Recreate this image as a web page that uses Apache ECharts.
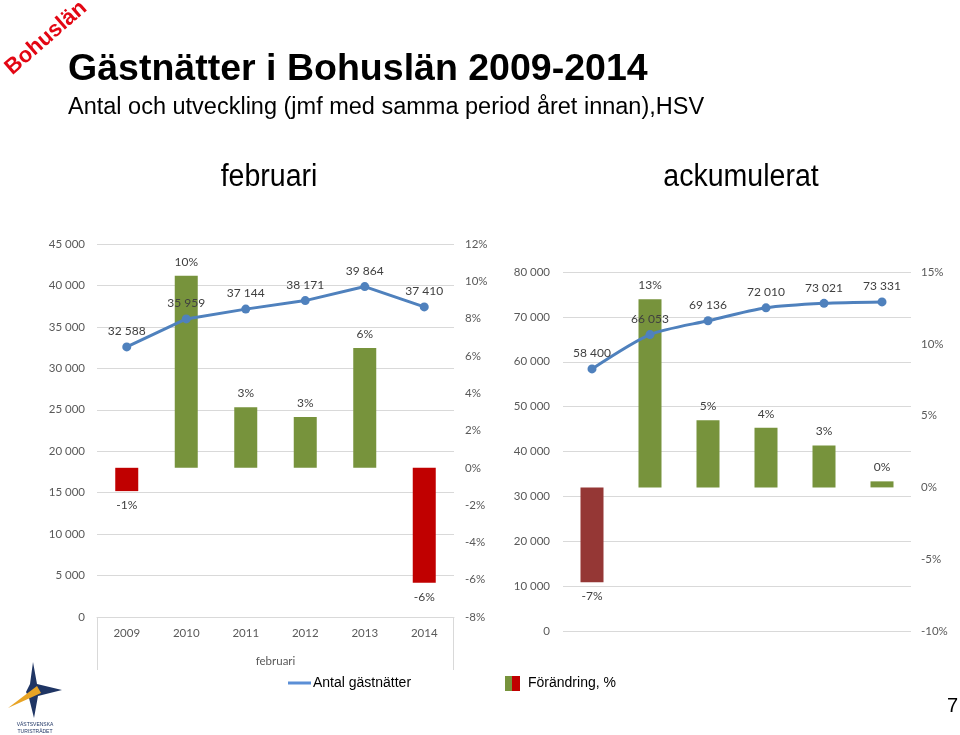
<!DOCTYPE html>
<html>
<head>
<meta charset="utf-8">
<script src="https://cdn.jsdelivr.net/npm/echarts@6/dist/echarts.min.js"></script>
<style>
html,body{margin:0;padding:0;background:#fff;}
#chart{width:960px;height:735px;}
</style>
</head>
<body>
<div id="chart"></div>
<script>
// ---- data ----
const years = ['2009', '2010', '2011', '2012', '2013', '2014'];
const febNights = [32588, 35959, 37144, 38171, 39864, 37410];
const febChange = [-1.25, 10.3, 3.25, 2.72, 6.43, -6.17];
const accNights = [58400, 66053, 69136, 72010, 73021, 73331];
const accChange = [-6.6, 13.1, 4.67, 4.16, 2.92, 0.42];
const febLeftTicks = { min: 0, max: 45000, interval: 5000 };
const febRightTicks = { min: -8, max: 12, interval: 2 };
const accLeftTicks = { min: 0, max: 80000, interval: 10000 };
const accRightTicks = { min: -10, max: 15, interval: 5 };

// ---- helpers ----
const GREEN = '#77933C', RED1 = '#C00000', RED2 = '#953735', BLUE = '#4F81BD';
const AXIS_FONT = 'Lato, "Open Sans", sans-serif';
const SANS = '"Liberation Sans", Arial, sans-serif';
const fmtNum = v => String(Math.round(v)).replace(/\B(?=(\d{3})+(?!\d))/g, ' ');
const fmtPct = v => Math.round(v) + '%';

function barData(vals, neg) {
  return vals.map(v => ({
    value: v,
    itemStyle: { color: v < 0 ? neg : GREEN },
    label: { position: v < 0 ? 'bottom' : 'top' }
  }));
}

const G0 = { left: 97, top: 244, width: 357, height: 373 };
const G1 = { left: 563, top: 272, width: 348, height: 359 };

const axisLabelStyle = { color: '#595959', fontSize: 11.5, fontFamily: AXIS_FONT };
const splitLineStyle = { show: true, lineStyle: { color: '#D9D9D9', width: 1 } };
const dataLabel = { show: true, color: '#404040', fontSize: 12, fontFamily: AXIS_FONT };

const chart = echarts.init(document.getElementById('chart'), null, { renderer: 'canvas' });

const option = {
  animation: false,
  backgroundColor: '#fff',
  grid: [
    Object.assign({}, G0, { containLabel: false }),
    Object.assign({}, G1, { containLabel: false })
  ],
  xAxis: [
    {
      type: 'category', gridIndex: 0, data: years,
      axisLine: { show: true, lineStyle: { color: '#D9D9D9' } },
      axisTick: { show: false },
      axisLabel: Object.assign({ margin: 10 }, axisLabelStyle),
      name: 'februari', nameLocation: 'middle', nameGap: 38,
      nameTextStyle: { color: '#595959', fontSize: 11.5, fontFamily: AXIS_FONT }
    },
    {
      type: 'category', gridIndex: 1, data: years,
      axisLine: { show: false }, axisTick: { show: false },
      axisLabel: { show: false }
    }
  ],
  yAxis: [
    Object.assign({
      type: 'value', gridIndex: 0, position: 'left',
      axisLine: { show: false }, axisTick: { show: false },
      splitLine: splitLineStyle,
      axisLabel: Object.assign({ margin: 12, formatter: fmtNum }, axisLabelStyle)
    }, febLeftTicks),
    Object.assign({
      type: 'value', gridIndex: 0, position: 'right',
      axisLine: { show: false }, axisTick: { show: false },
      splitLine: { show: false },
      axisLabel: Object.assign({ margin: 11, formatter: '{value}%' }, axisLabelStyle)
    }, febRightTicks),
    Object.assign({
      type: 'value', gridIndex: 1, position: 'left',
      axisLine: { show: false }, axisTick: { show: false },
      splitLine: splitLineStyle,
      axisLabel: Object.assign({ margin: 13, formatter: fmtNum }, axisLabelStyle)
    }, accLeftTicks),
    Object.assign({
      type: 'value', gridIndex: 1, position: 'right',
      axisLine: { show: false }, axisTick: { show: false },
      splitLine: { show: false },
      axisLabel: Object.assign({ margin: 10, formatter: '{value}%' }, axisLabelStyle)
    }, accRightTicks)
  ],
  series: [
    {
      type: 'bar', xAxisIndex: 0, yAxisIndex: 1, barWidth: 23,
      data: barData(febChange, RED1),
      label: Object.assign({ distance: 8, formatter: p => fmtPct(p.value) }, dataLabel),
      z: 2
    },
    {
      type: 'line', xAxisIndex: 0, yAxisIndex: 0, data: febNights,
      color: BLUE, lineStyle: { width: 3, color: BLUE },
      symbol: 'circle', symbolSize: 9, itemStyle: { color: BLUE },
      label: Object.assign({ position: 'top', distance: 5, formatter: p => fmtNum(p.value) }, dataLabel),
      z: 3
    },
    {
      type: 'bar', xAxisIndex: 1, yAxisIndex: 3, barWidth: 23,
      data: barData(accChange, RED2),
      label: Object.assign({ distance: 8, formatter: p => fmtPct(p.value) }, dataLabel),
      z: 2
    },
    {
      type: 'line', xAxisIndex: 1, yAxisIndex: 2, data: accNights, smooth: 0.25,
      color: BLUE, lineStyle: { width: 3, color: BLUE },
      symbol: 'circle', symbolSize: 9, itemStyle: { color: BLUE },
      label: Object.assign({ position: 'top', distance: 5, formatter: p => fmtNum(p.value) }, dataLabel),
      z: 3
    }
  ],
  graphic: [
    // corner mark
    { type: 'text', x: 46, y: 38, rotation: Math.PI * 41 / 180,
      style: { text: 'Bohuslän', font: 'bold 22px ' + SANS, fill: '#E30613', align: 'center', verticalAlign: 'middle' } },
    // titles
    { type: 'text', x: 68, y: 70, scaleX: 1.014,
      style: { text: 'Gästnätter i Bohuslän 2009-2014', font: 'bold 37px ' + SANS, fill: '#000', verticalAlign: 'middle' } },
    { type: 'text', x: 68, y: 108,
      style: { text: 'Antal och utveckling (jmf med samma period året innan),HSV', font: '23.5px ' + SANS, fill: '#000', verticalAlign: 'middle' } },
    { type: 'text', x: 269, y: 177, scaleX: 0.92,
      style: { text: 'februari', font: '31px ' + SANS, fill: '#000', align: 'center', verticalAlign: 'middle' } },
    { type: 'text', x: 741, y: 177, scaleX: 0.92,
      style: { text: 'ackumulerat', font: '31px ' + SANS, fill: '#000', align: 'center', verticalAlign: 'middle' } },
    // multi-level category frame (left chart)
    { type: 'line', shape: { x1: G0.left + 0.5, y1: G0.top + G0.height, x2: G0.left + 0.5, y2: G0.top + G0.height + 53 },
      style: { stroke: '#D9D9D9', lineWidth: 1 } },
    { type: 'line', shape: { x1: G0.left + G0.width - 0.5, y1: G0.top + G0.height, x2: G0.left + G0.width - 0.5, y2: G0.top + G0.height + 53 },
      style: { stroke: '#D9D9D9', lineWidth: 1 } },
    // legend
    { type: 'line', shape: { x1: 288, y1: 683, x2: 311, y2: 683 }, style: { stroke: '#5B8FD6', lineWidth: 3 } },
    { type: 'text', x: 313, y: 683, style: { text: 'Antal gästnätter', font: '14px ' + SANS, fill: '#000', verticalAlign: 'middle' } },
    { type: 'rect', shape: { x: 505, y: 676, width: 7, height: 15 }, style: { fill: GREEN } },
    { type: 'rect', shape: { x: 512, y: 676, width: 8, height: 15 }, style: { fill: RED1 } },
    { type: 'text', x: 528, y: 683, style: { text: 'Förändring, %', font: '14px ' + SANS, fill: '#000', verticalAlign: 'middle' } },
    // page number
    { type: 'text', x: 947, y: 706, style: { text: '7', font: '20px ' + SANS, fill: '#000', verticalAlign: 'middle' } },
    // logo
    { type: 'polygon', shape: { points: [[33, 662], [37, 684], [62, 690], [38, 696], [34, 718], [29, 698], [26, 692], [30, 684]] },
      style: { fill: '#1F3564' } },
    { type: 'polygon', shape: { points: [[8, 708], [37, 686], [41, 693]] }, style: { fill: '#E8A425' } },
    { type: 'text', x: 35, y: 725, style: { text: 'VÄSTSVENSKA', font: '5px ' + SANS, fill: '#1F3564', align: 'center', verticalAlign: 'middle' } },
    { type: 'text', x: 35, y: 732, style: { text: 'TURISTRÅDET', font: '5px ' + SANS, fill: '#1F3564', align: 'center', verticalAlign: 'middle' } }
  ]
};

chart.setOption(option);
</script>
</body>
</html>
